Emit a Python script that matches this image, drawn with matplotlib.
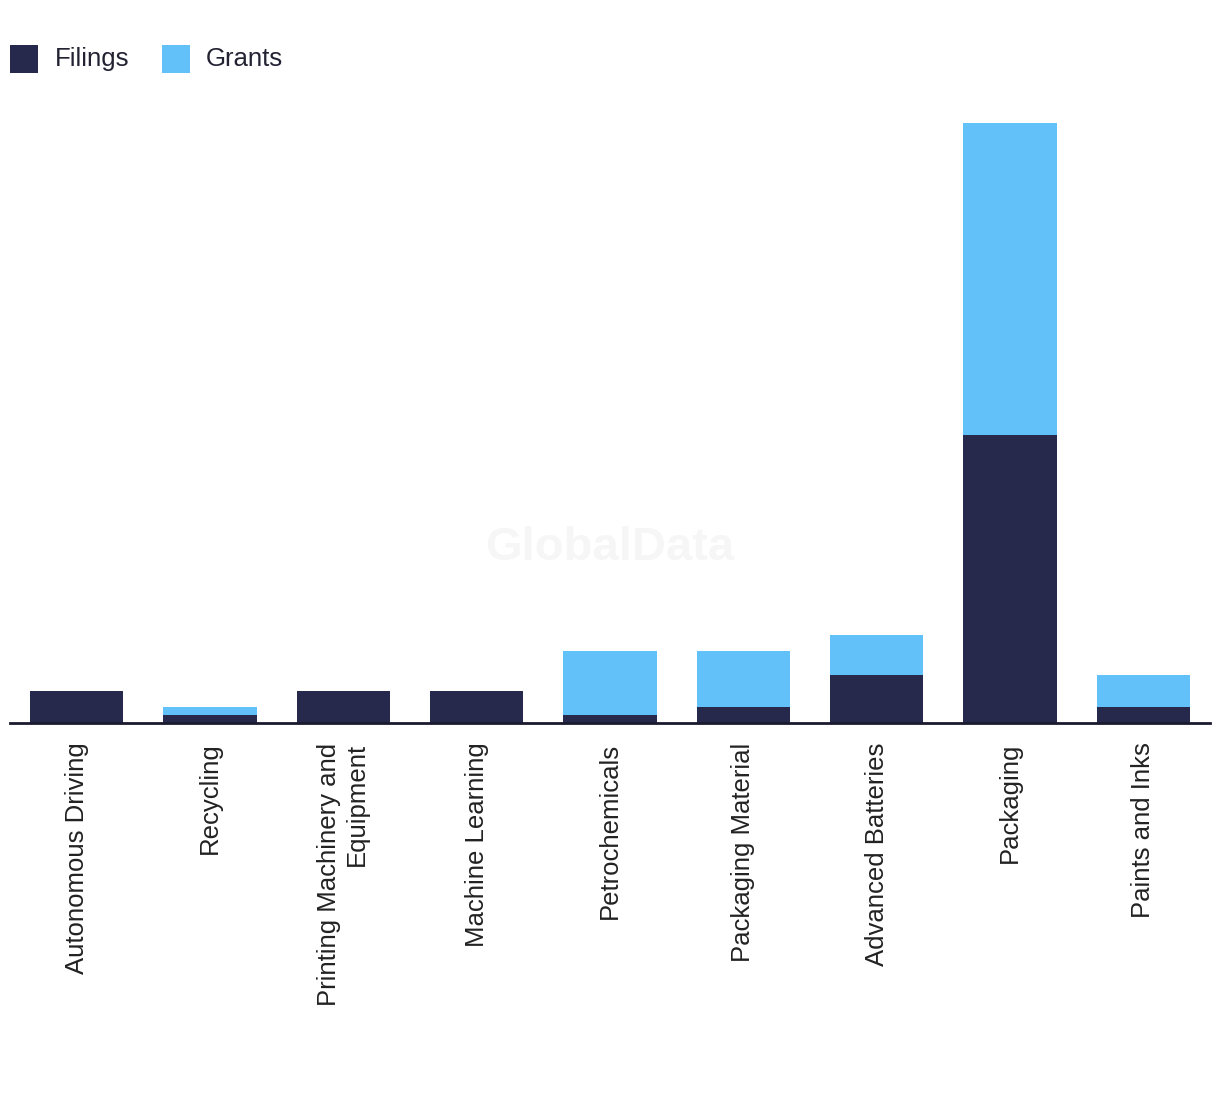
import numpy as np
import matplotlib
matplotlib.use('Agg')
import matplotlib.pyplot as plt
from matplotlib.patches import Rectangle

#--------------------------------------------
# Data
#--------------------------------------------
categories = ['Autonomous Driving', 'Recycling', 'Printing Machinery and\nEquipment',
              'Machine Learning', 'Petrochemicals', 'Packaging Material',
              'Advanced Batteries', 'Packaging', 'Paints and Inks']
filings = [4, 1, 4, 4, 1, 2, 6, 36, 2]
grants = [0, 1, 0, 0, 8, 7, 5, 39, 4]
series_names = ['Filings', 'Grants']

dark = '#26284c'
light = '#62c1f8'

plt.rcParams['font.family'] = ['Liberation Sans', 'DejaVu Sans']

W, H = 1220, 1094
fig = plt.figure(figsize=(W/100, H/100), dpi=100)
ax = fig.add_axes([10/W, 371/H, 1200/W, 640/H])

x = np.arange(len(categories))
ax.bar(x, filings, width=0.7, color=dark, zorder=2)
ax.bar(x, grants, width=0.7, bottom=filings, color=light, zorder=2)

ax.set_xlim(-0.5, len(categories) - 0.5)
ax.set_ylim(0, 80)
ax.set_yticks([])
for s in ['top', 'right', 'left']:
    ax.spines[s].set_visible(False)
ax.spines['bottom'].set_color('#1a1a2e')
ax.spines['bottom'].set_linewidth(2)
ax.spines['bottom'].set_zorder(3)

ax.set_xticks(x)
ax.set_xticklabels(categories, rotation=90, fontsize=18.5, color='#222222',
                   multialignment='right')
ax.tick_params(axis='x', length=0, pad=14)

# faint watermark
fig.text(0.5, 546/H, 'GlobalData', fontsize=34, fontweight='bold', color='#f6f6f6',
         ha='center', va='center', zorder=0)

# legend drawn by hand: square + label
for name, col, sx, tx in zip(series_names, [dark, light], [10, 162], [55, 206]):
    fig.patches.append(Rectangle((sx/W, 1 - 73/H), 28/W, 28/H, transform=fig.transFigure,
                                 facecolor=col, edgecolor='none'))
    fig.text(tx/W, 1 - 59/H, name, fontsize=18.5, color='#222233', ha='left', va='center')

plt.savefig('out.png', dpi=100)
